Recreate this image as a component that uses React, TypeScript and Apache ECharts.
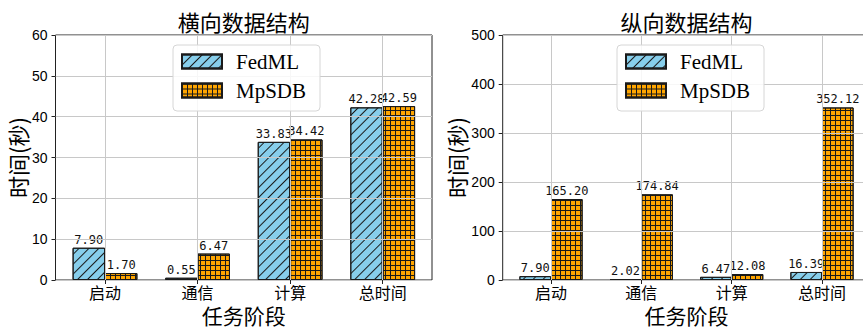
import React, { useEffect, useRef } from "react";
import * as echarts from "echarts";

// Task stages on the x axis
const stages = ["启动", "通信", "计算", "总时间"];

// Horizontal (横向) data structure timings, seconds
const horizontalFedML = [7.9, 0.55, 33.83, 42.28];
const horizontalMpSDB = [1.7, 6.47, 34.42, 42.59];

// Vertical (纵向) data structure timings, seconds
const verticalFedML = [7.9, 2.02, 6.47, 16.39];
const verticalMpSDB = [165.2, 174.84, 12.08, 352.12];

const panelTitles = ["横向数据结构", "纵向数据结构"];
const yMaxes = [60, 500];
const ySteps = [10, 100];
const seriesNames = ["FedML", "MpSDB"];

const CJK = '"Noto Sans CJK SC", "Noto Sans", sans-serif';
const SPINE = "#222";
const GRIDLINE = "#c8c8c8";

// Frame of each panel (axes box) and the span between first and last category
const panels = [
  { frameLeft: 55.5, frameWidth: 376.5, catLeft: 105, catWidth: 277.7, legendLeft: 173 },
  { frameLeft: 502.7, frameWidth: 367.5, catLeft: 551, catWidth: 271, legendLeft: 617 },
];
const TOP = 35;
const HEIGHT = 245;

// "/" hatch
const fedDecal = {
  symbol: "rect",
  symbolSize: 1,
  symbolKeepAspect: false,
  dashArrayX: [1, 0],
  dashArrayY: [1, 6],
  rotation: -Math.PI / 4,
  color: "#1a1a1a",
};
// "+" hatch: a 1px full-width row, then a 4px row of 1px vertical ticks
const mpDecal = {
  symbol: "rect",
  symbolSize: 1,
  symbolKeepAspect: false,
  dashArrayX: [
    [5, 0],
    [1, 4],
  ],
  dashArrayY: [1, 0, 4, 0],
  rotation: 0,
  color: "#1a1a1a",
};

function buildOption() {
  const grid: any[] = [];
  const xAxis: any[] = [];
  const yAxis: any[] = [];
  const series: any[] = [];
  const legend: any[] = [];
  const graphic: any[] = [];
  const data = [
    [horizontalFedML, horizontalMpSDB],
    [verticalFedML, verticalMpSDB],
  ];

  panels.forEach((p, i) => {
    const frameIdx = i * 2;
    const barIdx = i * 2 + 1;
    grid.push({
      left: p.frameLeft,
      top: TOP,
      width: p.frameWidth,
      height: HEIGHT,
      show: true,
      borderColor: SPINE,
      borderWidth: 1,
      backgroundColor: "transparent",
      containLabel: false,
      outerBoundsMode: "none",
    });
    grid.push({
      left: p.catLeft,
      top: TOP,
      width: p.catWidth,
      height: HEIGHT,
      containLabel: false,
      outerBoundsMode: "none",
    });

    xAxis.push({ gridIndex: frameIdx, type: "value", show: false, min: 0, max: 1 });
    xAxis.push({
      gridIndex: barIdx,
      type: "category",
      data: stages,
      boundaryGap: false,
      z: 3,
      axisLine: { show: false },
      axisTick: { show: true, length: 4, lineStyle: { color: SPINE } },
      axisLabel: { margin: 4, fontFamily: CJK, fontSize: 16, color: "#000" },
      splitLine: { show: true, lineStyle: { color: GRIDLINE, width: 1 } },
      name: "任务阶段",
      nameLocation: "middle",
      nameGap: 23,
      nameTextStyle: { fontFamily: CJK, fontSize: 21, lineHeight: 21, color: "#000" },
    });

    yAxis.push({
      gridIndex: frameIdx,
      type: "value",
      min: 0,
      max: yMaxes[i],
      interval: ySteps[i],
      z: 3,
      axisLine: { show: false },
      axisTick: { show: true, length: 4, lineStyle: { color: SPINE } },
      axisLabel: {
        margin: 8,
        fontFamily: '"Liberation Sans", Arial, sans-serif',
        fontSize: 14,
        color: "#000",
      },
      splitLine: { show: true, lineStyle: { color: GRIDLINE, width: 1 } },
      name: "时间(秒)",
      nameLocation: "middle",
      nameGap: 28,
      nameTextStyle: { fontFamily: CJK, fontSize: 22, color: "#000" },
    });
    yAxis.push({ gridIndex: barIdx, type: "value", show: false, min: 0, max: yMaxes[i] });

    const label = {
      show: true,
      position: "top",
      distance: 2,
      fontFamily: '"DejaVu Sans Mono", monospace',
      fontSize: 12,
      color: "#111",
      formatter: (v: any) => Number(v.value).toFixed(2),
    };

    seriesNames.forEach((name, s) => {
      series.push({
        type: "bar",
        name,
        xAxisIndex: barIdx,
        yAxisIndex: barIdx,
        data: data[i][s],
        barWidth: "35%",
        barGap: "0%",
        clip: false,
        z: 2,
        itemStyle: {
          color: s === 0 ? "#87CEEB" : "#FFA500",
          borderColor: "#1a1a1a",
          borderWidth: 1,
          decal: s === 0 ? fedDecal : mpDecal,
        },
        label,
      });
    });

    legend.push({
      left: p.legendLeft,
      top: 45,
      orient: "vertical",
      data: seriesNames,
      icon: "rect",
      itemWidth: 40,
      itemHeight: 14,
      itemGap: 8,
      padding: [6, 14, 10, 8],
      backgroundColor: "rgba(255,255,255,0.85)",
      borderColor: "#d6d6d6",
      borderWidth: 1,
      borderRadius: 4,
      selectedMode: false,
      z: 5,
      textStyle: {
        fontFamily: '"Liberation Serif", "Times New Roman", serif',
        fontSize: 21,
        lineHeight: 21,
        color: "#000",
        padding: [0, 0, 0, 9],
      },
    });

    graphic.push({
      type: "text",
      x: p.frameLeft + p.frameWidth / 2,
      y: 21,
      style: {
        text: panelTitles[i],
        textAlign: "center",
        textVerticalAlign: "middle",
        font: `22px ${CJK}`,
        fill: "#000",
      },
    });
  });

  return {
    animation: false,
    backgroundColor: "#fff",
    grid,
    xAxis,
    yAxis,
    series,
    legend,
    graphic,
  };
}

export default function App() {
  const ref = useRef<HTMLDivElement>(null);
  useEffect(() => {
    if (!ref.current) return;
    const chart = echarts.init(ref.current, undefined, { renderer: "svg" });
    chart.setOption(buildOption() as any);
    return () => chart.dispose();
  }, []);
  return (
    <div
      ref={ref}
      style={{ position: "fixed", left: 0, top: 0, width: 863, height: 329, background: "#fff" }}
    />
  );
}
